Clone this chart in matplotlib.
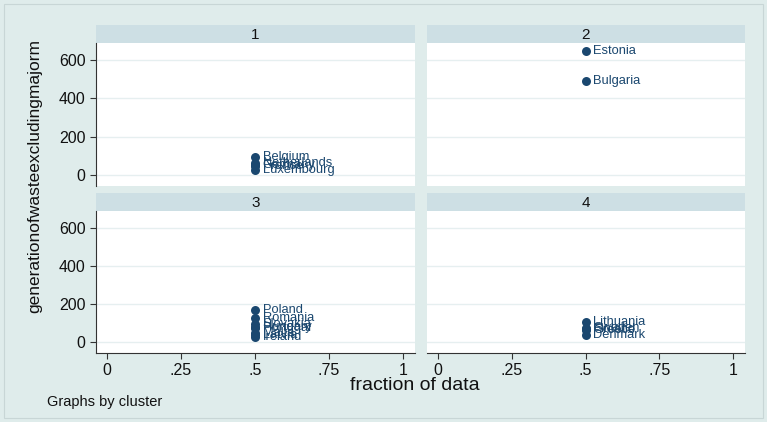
import numpy as np
import matplotlib.pyplot as plt
from matplotlib.patches import Rectangle

plt.rcParams['font.family'] = ['Liberation Sans', 'DejaVu Sans']

# share of data sits at .5 for every country (one obs per country)
c1_names = ['Belgium', 'Netherlands', 'Germany', 'France', 'Luxembourg']
c1_frac = [0.5, 0.5, 0.5, 0.5, 0.5]
c1_waste = [94, 62, 55, 48, 24]

c2_names = ['Estonia', 'Bulgaria']
c2_frac = [0.5, 0.5]
c2_waste = [647, 490]

c3_names = ['Poland', 'Romania', 'Slovakia', 'Hungary', 'Portugal', 'Malta', 'Latvia', 'Ireland']
c3_frac = [0.5, 0.5, 0.5, 0.5, 0.5, 0.5, 0.5, 0.5]
c3_waste = [167, 125, 96, 80, 74, 50, 38, 28]

c4_names = ['Lithuania', 'Sweden', 'Finland', 'Greece', 'Denmark']
c4_frac = [0.5, 0.5, 0.5, 0.5, 0.5]
c4_waste = [104, 76, 68, 62, 40]

xticks = [0, 0.25, 0.5, 0.75, 1]
xticklabels = ['0', '.25', '.5', '.75', '1']
yticks = [0, 200, 400, 600]

bg = '#dfeceb'
strip = '#cddfe4'
navy = '#1a476f'
grid = '#e6eff0'

W, H = 767, 422
fig = plt.figure(figsize=(W / 100, H / 100), dpi=100, facecolor=bg)
fig.patches.append(Rectangle((4 / W, 4 / H), (W - 8) / W, (H - 8) / H,
                             transform=fig.transFigure, fill=False,
                             edgecolor='#c8d6d6', lw=0.8))


def px_axes(x0, y0, x1, y1):
    return fig.add_axes([x0 / W, 1 - y1 / H, (x1 - x0) / W, (y1 - y0) / H])


panels = [
    ('1', c1_names, c1_frac, c1_waste, (96, 43, 415, 186), True, False),
    ('2', c2_names, c2_frac, c2_waste, (427, 43, 745, 186), False, False),
    ('3', c3_names, c3_frac, c3_waste, (96, 211, 415, 353), True, True),
    ('4', c4_names, c4_frac, c4_waste, (427, 211, 745, 353), False, True),
]

for title, names, frac, waste, (x0, y0, x1, y1), show_y, show_x in panels:
    # title strip above each panel
    sa = px_axes(x0, y0 - 18, x1, y0)
    sa.set_facecolor(strip)
    sa.set_xticks([])
    sa.set_yticks([])
    for s in sa.spines.values():
        s.set_visible(False)
    sa.text(0.5, 0.45, title, ha='center', va='center', fontsize=11,
            color='#111111', transform=sa.transAxes)

    ax = px_axes(x0, y0, x1, y1)
    ax.set_facecolor('white')
    ax.set_xlim(-0.037, 1.04)
    ax.set_ylim(-57, 689)
    for y in yticks:
        ax.axhline(y, color=grid, lw=1.0, zorder=0)
    ax.scatter(frac, waste, s=42, color=navy, zorder=3, linewidths=0)
    for n, fx, wv in zip(names, frac, waste):
        ax.annotate(n, (fx, wv), xytext=(5.5, 0), textcoords='offset points',
                    va='center', ha='left', fontsize=9.3, color=navy, zorder=4)

    for s in ['top', 'right']:
        ax.spines[s].set_visible(False)
    ax.spines['left'].set_visible(show_y)
    ax.spines['bottom'].set_visible(show_x)
    ax.spines['left'].set_color('#333333')
    ax.spines['bottom'].set_color('#333333')
    ax.tick_params(direction='out', length=4, width=0.8, color='#333333',
                   labelsize=11.5, labelcolor='#111111')
    ax.set_yticks(yticks)
    ax.set_xticks(xticks)
    if show_y:
        ax.set_yticklabels([str(v) for v in yticks])
    else:
        ax.tick_params(axis='y', left=False, labelleft=False)
    if show_x:
        ax.set_xticklabels(xticklabels)
    else:
        ax.tick_params(axis='x', bottom=False, labelbottom=False)

fig.text(35 / W, 1 - 176 / H, 'generationofwasteexcludingmajorm', rotation=90,
         ha='center', va='center', fontsize=12.5, color='#111111')
fig.text(415 / W, 1 - 385 / H, 'fraction of data', ha='center', va='center',
         fontsize=14, color='#111111')
fig.text(47 / W, 1 - 402 / H, 'Graphs by cluster', ha='left', va='center',
         fontsize=10.5, color='#111111')

fig.savefig('out.png', dpi=100, facecolor=bg)
